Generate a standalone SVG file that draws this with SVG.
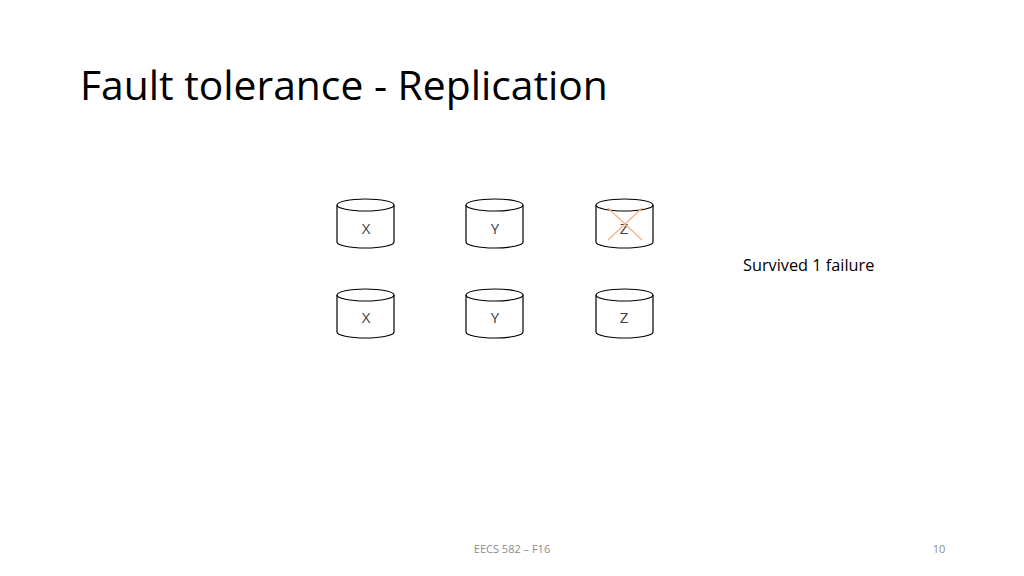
<svg xmlns="http://www.w3.org/2000/svg" width="1024" height="576" viewBox="0 0 1024 576">
<defs><style>
.c{fill:#fff;stroke:#000;stroke-width:1.2}
.t{font-family:"Open Sans","Liberation Sans",sans-serif;font-size:15px;fill:#404040;text-anchor:middle}
.x{stroke:#f4b183;stroke-width:1.2}
</style>
<g id="cyl"><path class="c" d="M0,6 L0,43 A28.5,6 0 0 0 57,43 L57,6"/><ellipse class="c" cx="28.5" cy="6" rx="28.5" ry="6"/></g>
</defs>
<rect width="1024" height="576" fill="#fff"/>
<text x="80" y="100" font-family="'Open Sans','Liberation Sans',sans-serif" font-size="40.8" fill="#000">Fault tolerance - Replication</text>
<g id="x1"><use href="#cyl" x="337" y="199"/><text class="t" x="366" y="234">X</text></g>
<g id="y1"><use href="#cyl" x="466" y="199"/><text class="t" x="495" y="234">Y</text></g>
<g id="z1"><use href="#cyl" x="596" y="199"/><text class="t" x="624" y="234">Z</text>
<line class="x" x1="608" y1="208" x2="642" y2="240"/><line class="x" x1="642" y1="208" x2="608" y2="240"/></g>
<g id="x2"><use href="#cyl" x="337" y="289"/><text class="t" x="366" y="323">X</text></g>
<g id="y2"><use href="#cyl" x="466" y="289"/><text class="t" x="495" y="323">Y</text></g>
<g id="z2"><use href="#cyl" x="596" y="289"/><text class="t" x="624" y="323">Z</text></g>
<text x="743" y="271" font-family="'Open Sans','Liberation Sans',sans-serif" font-size="16.3" fill="#000">Survived 1 failure</text>
<text x="512" y="553" text-anchor="middle" font-family="'Open Sans','Liberation Sans',sans-serif" font-size="11" fill="#8c8c8c">EECS 582 – F16</text>
<text x="939" y="553" text-anchor="middle" font-family="'Open Sans','Liberation Sans',sans-serif" font-size="11" fill="#8c8c8c">10</text>
<g id="connectors"/>
</svg>
